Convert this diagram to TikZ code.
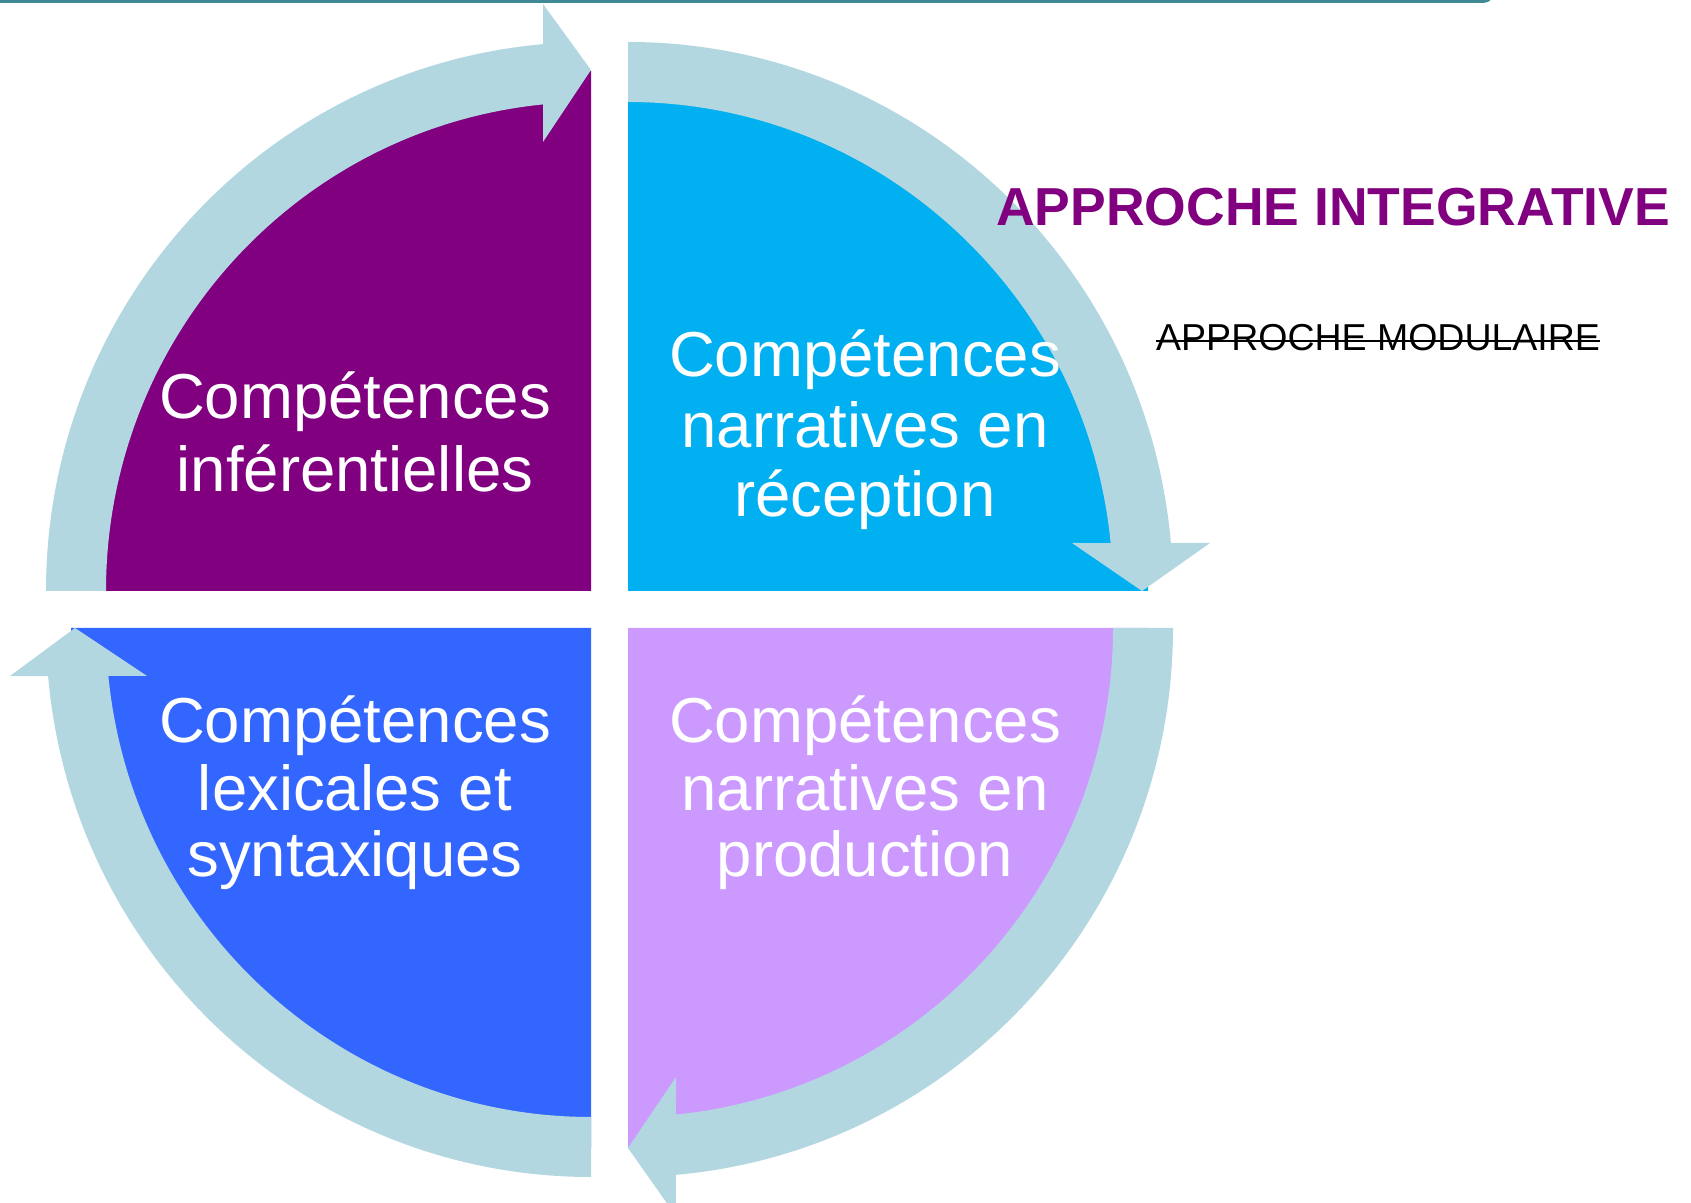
\documentclass[tikz,border=0pt]{standalone}
\usepackage{fontspec}
\setmainfont{Liberation Sans}
\definecolor{ringblue}{HTML}{B3D7E0}
\definecolor{qpurple}{HTML}{800080}
\definecolor{qcyan}{HTML}{00B0F0}
\definecolor{qroyal}{HTML}{3366FF}
\definecolor{qlav}{HTML}{CC99FF}
\definecolor{topline}{HTML}{3F8896}
\begin{document}
\begin{tikzpicture}[x=1pt,y=1pt,
  ring/.style={fill=ringblue, draw=none},
  quad/.style={draw=none},
  lbl/.style={text=white, inner sep=0pt, anchor=base, font=\fontsize{63.5}{70}\selectfont}]
\useasboundingbox (0,0) rectangle (1691,1202);
% top line
\draw[topline, line width=3, rounded corners=14] (-10,1200.5) -- (1496,1200.5) -- (1496,1230);
% quadrants
\fill[qpurple] (591,611) -- ++(-520,0) arc[start angle=180, end angle=90, radius=520] -- cycle;
\fill[qcyan] (628,611) -- ++(0,520) arc[start angle=90, end angle=0, radius=520] -- cycle;
\fill[qlav] (628,574) -- ++(520,0) arc[start angle=0, end angle=-90, radius=520] -- cycle;
\fill[qroyal] (591,574) -- ++(0,-520) arc[start angle=-90, end angle=-180, radius=520] -- cycle;
% ring arrows
\begin{scope}[shift={(591,611)}]
\fill[ring] (-545,0) arc[start angle=180, end angle=95.05, x radius=545, y radius=549]
  -- (-48,587) -- (0,521) -- (-48,449) -- (95.68:485 and 489)
  arc[start angle=95.68, end angle=180, x radius=485, y radius=489] -- cycle;
\end{scope}
\begin{scope}[shift={(628,611)}]
\fill[ring] (0,549) arc[start angle=90, end angle=5.02, x radius=545, y radius=549]
  -- (582,48) -- (514,0) -- (444,48) -- (5.63:485 and 489)
  arc[start angle=5.63, end angle=90, x radius=485, y radius=489] -- cycle;
\end{scope}
\begin{scope}[shift={(628,574)}]
\fill[ring] (545,0) arc[start angle=0, end angle=-84.95, x radius=545, y radius=549]
  -- (48,-588) -- (0,-520) -- (48,-449) -- (-84.32:485 and 489)
  arc[start angle=-84.32, end angle=0, x radius=485, y radius=489] -- cycle;
\end{scope}
\begin{scope}[shift={(591,574)}]
\fill[ring] (0,-549) arc[start angle=270, end angle=185.02, x radius=545, y radius=549]
  -- (-581,-48) -- (-516,0) -- (-444,-48) -- (185.63:485 and 489)
  arc[start angle=185.63, end angle=270, x radius=485, y radius=489] -- cycle;
\end{scope}
% labels
\node[lbl] (p1) at (355,783) {Compétences};
\node[lbl] (p2) at (355,710) {inférentielles};
\node[lbl] (c1) at (865,825) {Compétences};
\node[lbl] (c2) at (865,754) {narratives en};
\node[lbl] (c3) at (865,685) {réception};
\node[lbl] (r1) at (355,459) {Compétences};
\node[lbl] (r2) at (355,391) {lexicales et};
\node[lbl] (r3) at (355,325) {syntaxiques};
\node[lbl] (l1) at (865,459) {Compétences};
\node[lbl] (l2) at (865,391) {narratives en};
\node[lbl] (l3) at (865,325) {production};
% titles
\node[anchor=base west, inner sep=0pt, text=qpurple, font=\fontsize{53.5}{60}\selectfont\bfseries] (integ) at (996,976) {APPROCHE INTEGRATIVE};
\node[anchor=base west, inner sep=0pt, text=black, font=\fontsize{37.5}{42}\selectfont] (modu) at (1156,851) {APPROCHE MODULAIRE};
\draw[line width=2.5] ([yshift=10]modu.base west) -- ([yshift=10]modu.base east);
\end{tikzpicture}
\end{document}
